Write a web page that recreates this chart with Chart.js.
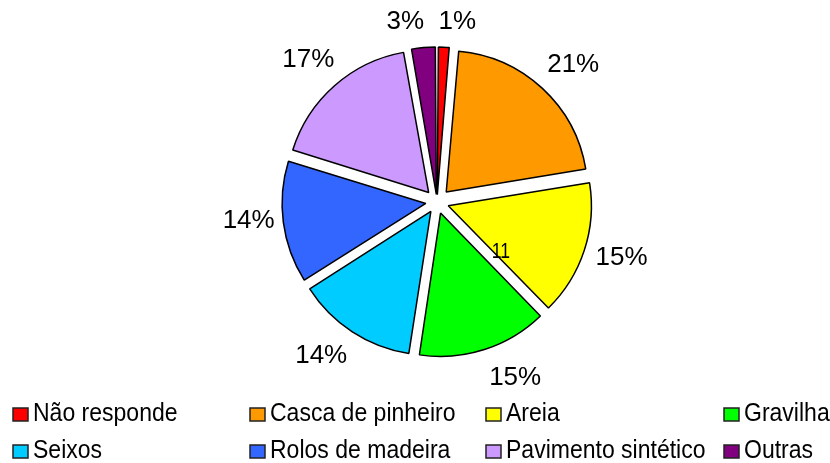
<!DOCTYPE html>
<html>
<head>
<meta charset="utf-8">
<script src="https://cdn.jsdelivr.net/npm/chart.js@4/dist/chart.umd.min.js"></script>
<style>
  html, body { margin: 0; padding: 0; background: #fff; }
  #wrap { width: 830px; height: 463px; }
</style>
</head>
<body>
<div id="wrap"><canvas id="chart" width="830" height="463"></canvas></div>
<script>
// Data
const categories = ["Não responde", "Casca de pinheiro", "Areia", "Gravilha",
  "Seixos", "Rolos de madeira", "Pavimento sintético", "Outras"];
const shares = [1.4, 21.0, 15.3, 14.7, 13.6, 13.8, 17.4, 2.8];
const colors = ["#FF0000", "#FF9900", "#FFFF00", "#00FF00",
  "#00CCFF", "#3366FF", "#CC99FF", "#800080"];
const strayLabel = "11";

const total = shares.reduce((a, b) => a + b, 0);
const EXPLODE = 14;   // px each slice is pulled out
const FONT = "'Liberation Sans', Arial, Helvetica, sans-serif";

// small shifts so the labels don't sit on top of each other
const labelNudge = [[12, 10], [7, 2], [4, -3], [20, -5], [-12, -5], [0, -6], [-3, 0], [-15, 9]];

// percent labels outside the pie + the stray "11"
const pieLabels = {
  id: "pieLabels",
  afterDatasetsDraw(chart) {
    const ctx = chart.ctx;
    const arcs = chart.getDatasetMeta(0).data;
    ctx.save();
    ctx.fillStyle = "#000";
    ctx.font = "26px " + FONT;
    ctx.textAlign = "center";
    ctx.textBaseline = "middle";
    arcs.forEach((arc, i) => {
      const mid = (arc.startAngle + arc.endAngle) / 2;
      const r = arc.outerRadius + 49;
      const x = arc.x + Math.cos(mid) * r + labelNudge[i][0];
      const y = arc.y + Math.sin(mid) * r + labelNudge[i][1];
      ctx.fillText(Math.round(shares[i] / total * 100) + "%", x, y);
    });
    // leftover label inside the yellow slice
    const a = arcs[2];
    ctx.font = "22px " + FONT;
    ctx.translate(a.x + 64, a.y + 50);
    ctx.scale(0.8, 1);
    ctx.fillText(strayLabel, 0, 0);
    ctx.restore();
  }
};

// legend drawn in 4 fixed columns like the original
const gridLegend = {
  id: "gridLegend",
  afterDraw(chart) {
    const ctx = chart.ctx;
    const colX = [13, 250, 486, 724];
    const rowY = [408, 445];
    ctx.save();
    ctx.textBaseline = "alphabetic";
    ctx.textAlign = "left";
    categories.forEach((name, i) => {
      const x = colX[i % 4];
      const y = rowY[Math.floor(i / 4)];
      ctx.fillStyle = colors[i];
      ctx.fillRect(x, y, 15, 13);
      ctx.strokeStyle = "#222";
      ctx.lineWidth = 1.5;
      ctx.strokeRect(x, y, 15, 13);
      ctx.save();
      ctx.translate(x + 20, y + 13);
      ctx.scale(0.885, 1);
      ctx.fillStyle = "#000";
      ctx.font = "26px " + FONT;
      ctx.fillText(name, 0, 0);
      ctx.restore();
    });
    ctx.restore();
  }
};

new Chart(document.getElementById("chart"), {
  type: "pie",
  data: {
    labels: categories,
    datasets: [{
      data: shares,
      backgroundColor: colors,
      borderColor: "#000",
      borderWidth: 1.5,
      // Chart.js moves an arc by offset/4*(2 - sin(angle)), undo that
      offset: c => {
        const ang = c.raw / total * Math.PI * 2;
        return 4 * EXPLODE / (2 - Math.sin(Math.min(Math.PI, ang)));
      }
    }]
  },
  options: {
    responsive: false,
    animation: false,
    radius: 141,
    layout: { padding: { left: 44, right: 0, top: 20, bottom: 79 } },
    plugins: {
      legend: { display: false },
      tooltip: { enabled: false }
    }
  },
  plugins: [pieLabels, gridLegend]
});
</script>
</body>
</html>
